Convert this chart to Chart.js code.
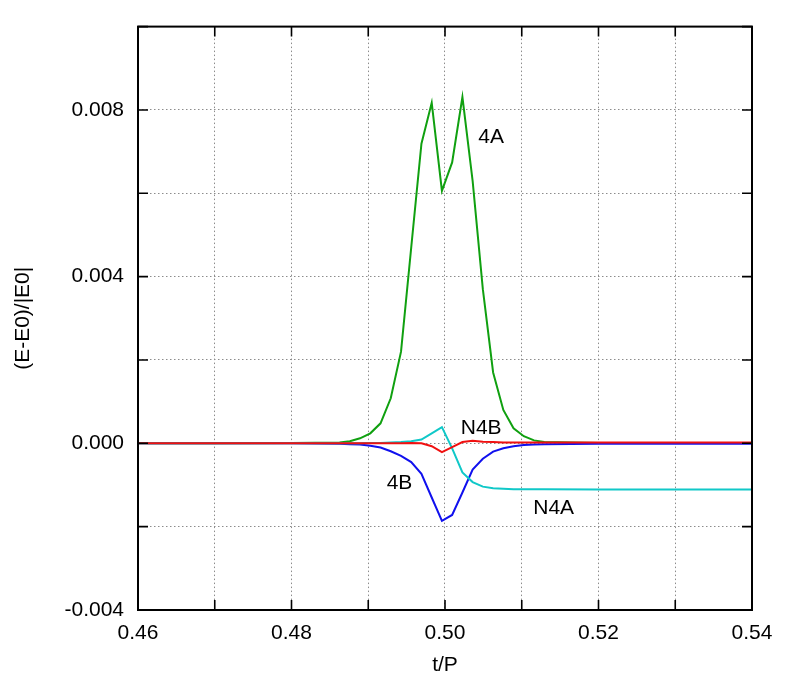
<!DOCTYPE html>
<html>
<head>
<meta charset="utf-8">
<script src="https://cdn.jsdelivr.net/npm/chart.js@4.4.1/dist/chart.umd.min.js"></script>
<style>
  body { margin: 0; background: #fff; }
  #wrap { width: 789px; height: 676px; }
</style>
</head>
<body>
<div id="wrap"><canvas id="myChart" width="789" height="676"></canvas></div>
<script>
// t/P sample points (dense near the middle, sparse on the flat parts)
const tP = [0.46, 0.47, 0.48,
  0.48627, 0.48760, 0.48893, 0.49027, 0.49160, 0.49293, 0.49427, 0.49560, 0.49693, 0.49827,
  0.49960,
  0.50093, 0.50227, 0.50360, 0.50493, 0.50627, 0.50760, 0.50893, 0.51027, 0.51160, 0.51293,
  0.52, 0.53, 0.54];

const e4A = [0, 0, 0.00001,
  0.00002, 0.00005, 0.00012, 0.00024, 0.00048, 0.00108, 0.0022, 0.0047, 0.00719, 0.00817,
  0.00606,
  0.00674, 0.00831, 0.0063, 0.0037, 0.0017, 0.0008, 0.00036, 0.00017, 0.00007, 0.00003,
  0.00001, 0.00001, 0.00001];

const e4B = [0, 0, 0,
  -0.00001, -0.00002, -0.00003, -0.00006, -0.0001, -0.00019, -0.0003, -0.00045, -0.00073, -0.0013,
  -0.00186,
  -0.00172, -0.00118, -0.00063, -0.00037, -0.0002, -0.00012, -0.00007, -0.00004, -0.00003, -0.00002,
  -0.00001, -0.00001, -0.00001];

const eN4A = [0, 0, 0,
  0, 0, 0, 0.00001, 0.00001, 0.00002, 0.00003, 0.00005, 0.00009, 0.00024,
  0.00039,
  -0.00012, -0.0007, -0.00093, -0.00104, -0.00108, -0.00109, -0.0011, -0.0011, -0.0011, -0.0011,
  -0.00111, -0.00111, -0.00111];

const eN4B = [0, 0, 0,
  0, 0, 0, 0, 0, 0, 0, 0.00001, 0, -0.00007,
  -0.00021,
  -0.00009, 0.00003, 0.00006, 0.00004, 0.00003, 0.00002, 0.00002, 0.00002, 0.00002, 0.00002,
  0.00002, 0.00002, 0.00002];

// curve labels (data coords)
const labelText = ['4A', 'N4B', '4B', 'N4A'];
const labelX = [0.50434, 0.50205, 0.49240, 0.51150];
const labelY = [0.00735, 0.00036, -0.00096, -0.00156];

const FONT = "'Liberation Sans', Arial, sans-serif";

function pts(ys) {
  return tP.map((t, i) => ({x: t, y: ys[i]}));
}

// frame, inside tick marks and curve labels
const framePlugin = {
  id: 'frame',
  afterDatasetsDraw(chart) {
    const ctx = chart.ctx;
    const a = chart.chartArea;
    const xs = chart.scales.x, ys = chart.scales.y;
    ctx.save();
    ctx.strokeStyle = '#000';
    ctx.lineWidth = 1.6;
    ctx.beginPath();
    ys.ticks.forEach(t => {
      const py = ys.getPixelForValue(t.value);
      ctx.moveTo(a.left, py); ctx.lineTo(a.left + 10, py);
      ctx.moveTo(a.right, py); ctx.lineTo(a.right - 10, py);
    });
    xs.ticks.forEach(t => {
      const px = xs.getPixelForValue(t.value);
      ctx.moveTo(px, a.bottom); ctx.lineTo(px, a.bottom - 10);
      ctx.moveTo(px, a.top); ctx.lineTo(px, a.top + 10);
    });
    ctx.stroke();
    ctx.lineWidth = 2;
    ctx.strokeRect(a.left, a.top, a.right - a.left, a.bottom - a.top);

    ctx.fillStyle = '#000';
    ctx.font = '21px ' + FONT;
    ctx.textAlign = 'left';
    ctx.textBaseline = 'middle';
    labelText.forEach((s, i) => {
      ctx.fillText(s, xs.getPixelForValue(labelX[i]), ys.getPixelForValue(labelY[i]));
    });
    ctx.restore();
  }
};

const ctx = document.getElementById('myChart');

new Chart(ctx, {
  type: 'line',
  data: {
    datasets: [
      {label: 'N4B', data: pts(eN4B), borderColor: '#f01010', order: 0},
      {label: 'N4A', data: pts(eN4A), borderColor: '#10c8c8', order: 1},
      {label: '4B', data: pts(e4B), borderColor: '#1010ee', order: 2},
      {label: '4A', data: pts(e4A), borderColor: '#10a010', order: 3}
    ]
  },
  options: {
    responsive: false,
    animation: false,
    events: [],
    datasets: {
      line: {pointRadius: 0, borderWidth: 2, tension: 0, fill: false}
    },
    layout: {padding: {left: 0, top: 26, right: 37, bottom: 0}},
    plugins: {legend: {display: false}, tooltip: {enabled: false}},
    scales: {
      x: {
        type: 'linear',
        min: 0.46, max: 0.54,
        afterFit(s) { s.height = 66; },
        grid: {color: '#8c8c8c', lineWidth: 1, drawTicks: false},
        border: {display: false, dash: [1.5, 2.5]},
        ticks: {
          stepSize: 0.01,
          padding: 11,
          color: '#000',
          font: {family: FONT, size: 21},
          maxRotation: 0,
          autoSkip: false,
          callback: v => (Math.round(v * 100) % 2 === 0 ? v.toFixed(2) : '')
        },
        title: {display: true, text: 't/P', color: '#000',
          font: {family: FONT, size: 21, lineHeight: 1}, padding: {top: 0, bottom: 0.5}}
      },
      y: {
        type: 'linear',
        min: -0.004, max: 0.010,
        afterFit(s) { s.width = 138; },
        grid: {color: '#8c8c8c', lineWidth: 1, drawTicks: false},
        border: {display: false, dash: [1.5, 2.5]},
        ticks: {
          stepSize: 0.002,
          padding: 14,
          color: '#000',
          font: {family: FONT, size: 21},
          autoSkip: false,
          callback: v => (Math.round(v * 500) % 2 === 0 && v < 0.0095 ? v.toFixed(3) : '')
        },
        title: {display: true, text: '(E-E0)/|E0|', color: '#000',
          font: {family: FONT, size: 21, lineHeight: 1}, padding: {top: 12.5, bottom: 0}}
      }
    }
  },
  plugins: [framePlugin]
});
</script>
</body>
</html>
